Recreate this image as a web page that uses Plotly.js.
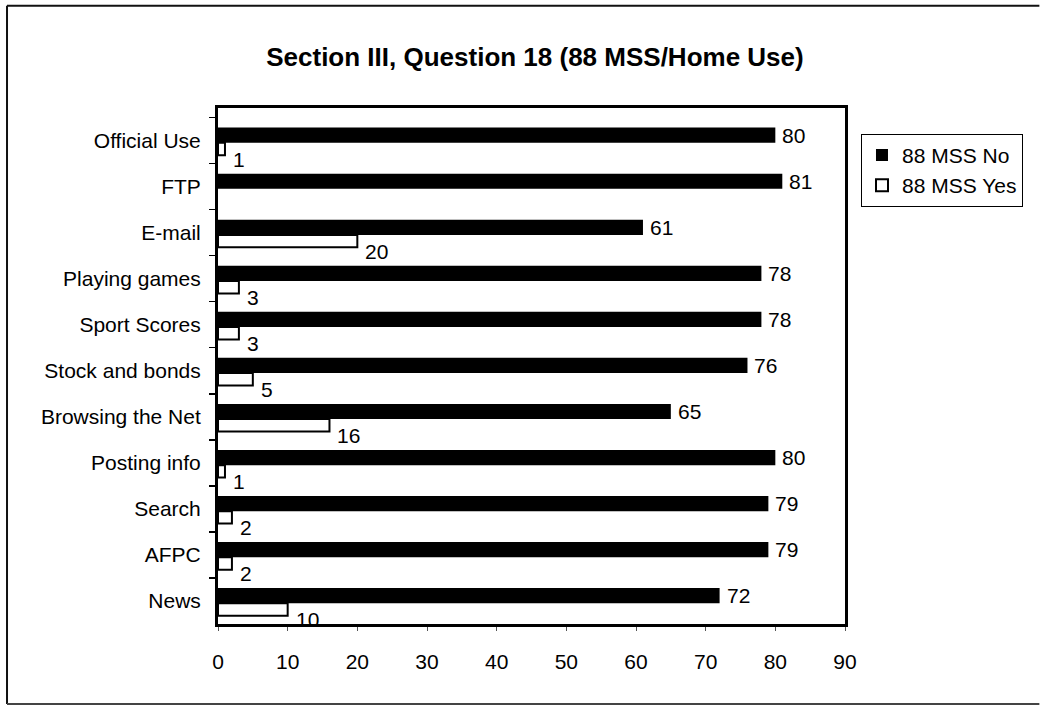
<!DOCTYPE html>
<html>
<head>
<meta charset="utf-8">
<script src="https://cdn.plot.ly/plotly-3.0.1.min.js"></script>
<style>
  html, body { margin: 0; padding: 0; background: #ffffff; }
  #chart { width: 1051px; height: 706px; }
</style>
</head>
<body>
<div id="chart"></div>
<script>
// ---- data ----
const categories = ["Official Use", "FTP", "E-mail", "Playing games", "Sport Scores",
  "Stock and bonds", "Browsing the Net", "Posting info", "Search", "AFPC", "News"];
const mssNo  = [80, 81, 61, 78, 78, 76, 65, 80, 79, 79, 72];
const mssYes = [1, null, 20, 3, 3, 5, 16, 1, 2, 2, 10];
const seriesNames = ["88 MSS No", "88 MSS Yes"];
const titleText = "Section III, Question 18 (88 MSS/Home Use)";
const xTicks = [0, 10, 20, 30, 40, 50, 60, 70, 80, 90];

const FONT = "Liberation Sans, Arial, Helvetica, sans-serif";

const traces = [
  {
    type: "bar", orientation: "h", name: seriesNames[0],
    y: categories, x: mssNo,
    offset: -0.28, width: 0.33,
    marker: { color: "#000000", line: { color: "#000000", width: 0 } },
    hoverinfo: "x+y"
  },
  {
    type: "bar", orientation: "h", name: seriesNames[1],
    y: categories, x: mssYes,
    offset: 0.05, width: 0.27,
    marker: { color: "#ffffff", line: { color: "#000000", width: 2 } },
    hoverinfo: "x+y"
  }
];

// value labels built from the data arrays
const annotations = [];
categories.forEach((c, i) => {
  if (mssNo[i] !== null) {
    annotations.push({ x: mssNo[i], y: c, xref: "x", yref: "y", text: String(mssNo[i]),
      showarrow: false, xanchor: "left", yanchor: "middle", xshift: 5, yshift: 5,
      font: { family: FONT, size: 21, color: "#000" } });
  }
  if (mssYes[i] !== null) {
    annotations.push({ x: mssYes[i], y: c, xref: "x", yref: "y", text: String(mssYes[i]),
      showarrow: false, xanchor: "left", yanchor: "middle", xshift: 6, yshift: -19,
      font: { family: FONT, size: 21, color: "#000" } });
  }
});

const frameLine = { color: "#111111", width: 2 };
const shapes = [
  { type: "line", xref: "paper", yref: "paper", x0: -0.3365, x1: -0.3365, y0: -0.155, y1: 1.198, line: frameLine },
  { type: "line", xref: "paper", yref: "paper", x0: -0.3365, x1: 1.31, y0: 1.198, y1: 1.198, line: frameLine },
  { type: "line", xref: "paper", yref: "paper", x0: -0.3365, x1: 1.31, y0: -0.155, y1: -0.155, line: { color: "#444444", width: 2 } }
];

const layout = {
  width: 1051, height: 706,
  margin: { l: 218, r: 206, t: 108, b: 82, pad: 0 },
  paper_bgcolor: "#ffffff", plot_bgcolor: "#ffffff",
  font: { family: FONT, size: 21, color: "#000000" },
  title: {
    text: "<b>" + titleText + "</b>",
    font: { family: FONT, size: 26, color: "#000000" },
    x: 0.509, xref: "container", xanchor: "center",
    y: 0.919, yref: "container", yanchor: "middle"
  },
  barmode: "group",
  showlegend: true,
  legend: {
    x: 1.0255, y: 0.95, xanchor: "left", yanchor: "top",
    bordercolor: "#000000", borderwidth: 1, bgcolor: "#ffffff",
    font: { family: FONT, size: 21, color: "#000" },
    traceorder: "normal", itemwidth: 30
  },
  xaxis: {
    range: [0, 90], tickvals: xTicks, ticktext: xTicks.map(String),
    showgrid: false, zeroline: false,
    showline: true, linecolor: "#000000", linewidth: 3, mirror: true,
    ticks: "outside", ticklen: 4, tickcolor: "#555", tickwidth: 1,
    ticklabelstandoff: 13,
    tickfont: { family: FONT, size: 21, color: "#000" },
    fixedrange: true
  },
  yaxis: {
    type: "category", autorange: "reversed",
    showgrid: false, zeroline: false,
    showline: true, linecolor: "#000000", linewidth: 3, mirror: true,
    ticks: "outside", ticklen: 6, tickcolor: "#000", tickwidth: 1.5,
    tickson: "boundaries",
    ticklabelstandoff: 10,
    tickfont: { family: FONT, size: 21, color: "#000" },
    fixedrange: true
  },
  annotations: annotations,
  shapes: shapes
};

Plotly.newPlot("chart", traces, layout, { displayModeBar: false, staticPlot: true });
</script>
</body>
</html>
